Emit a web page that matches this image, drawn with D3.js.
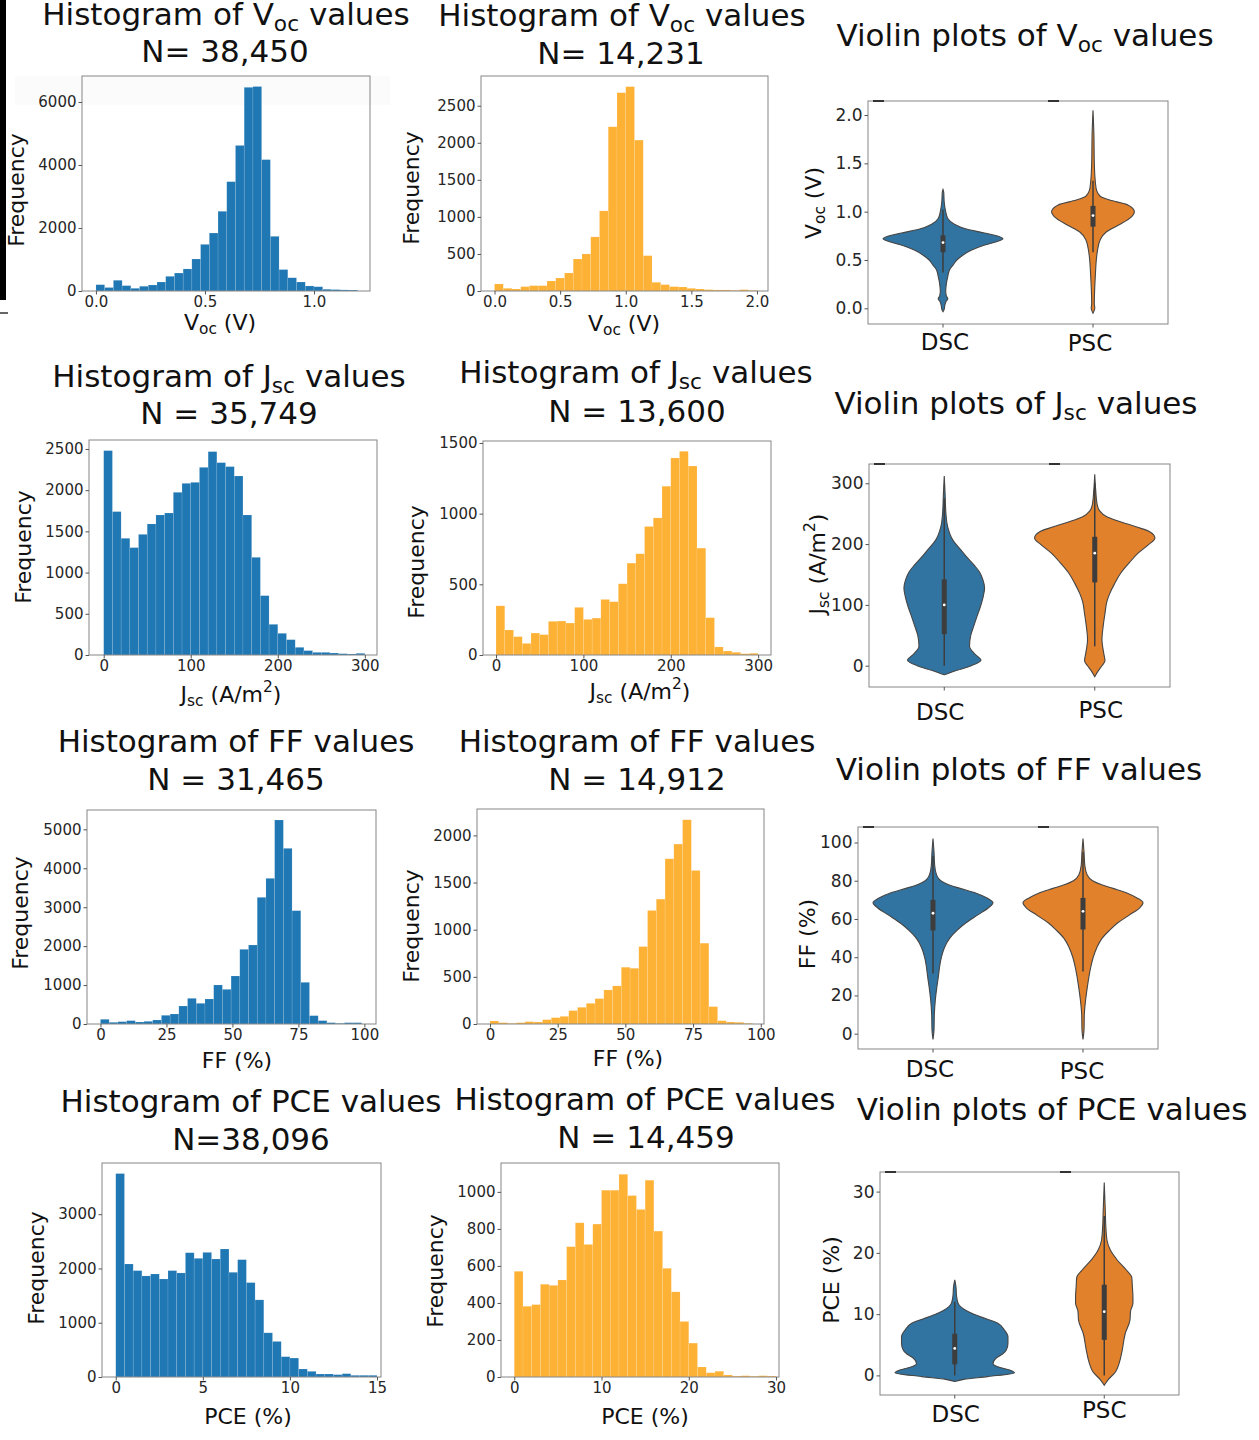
<!DOCTYPE html>
<html>
<head>
<meta charset="utf-8">
<script src="https://cdn.jsdelivr.net/npm/d3@7"></script>
<style>
  body { margin: 0; background: #fff; }
  svg { display: block; font-family: "DejaVu Sans", sans-serif; }
</style>
</head>
<body>
<div id="chart"></div>
<script>
// ---- histogram counts (30 bins each) ----
var vocDscRange = [0, 1.2];
var vocDscCounts = [200, 110, 340, 170, 85, 150, 190, 285, 465, 570, 700, 1015, 1480, 1840, 2530, 3470, 4620, 6465, 6490, 4170, 1735, 680, 420, 285, 160, 135, 55, 45, 35, 30];
var vocPscRange = [0, 2.0];
var vocPscCounts = [95, 36, 27, 59, 72, 72, 135, 175, 243, 432, 500, 730, 1081, 2216, 2676, 2757, 2036, 477, 117, 86, 59, 54, 36, 27, 18, 14, 14, 9, 18, 9];
var jscDscRange = [0, 300];
var jscDscCounts = [2480, 1740, 1416, 1303, 1464, 1590, 1699, 1723, 1974, 2083, 2095, 2277, 2468, 2334, 2286, 2172, 1699, 1185, 720, 372, 263, 186, 93, 53, 32, 32, 24, 16, 12, 20];
var jscPscRange = [0, 300];
var jscPscCounts = [348, 177, 130, 82, 155, 144, 238, 240, 226, 337, 252, 261, 393, 377, 504, 650, 716, 909, 970, 1194, 1394, 1441, 1337, 756, 264, 57, 28, 19, 9, 12];
var ffDscRange = [0, 99];
var ffDscCounts = [120, 43, 60, 86, 51, 68, 103, 223, 257, 462, 659, 531, 642, 1002, 890, 1233, 1918, 2029, 3253, 3741, 5240, 4512, 2911, 1070, 214, 86, 34, 17, 34, 34];
var ffPscRange = [0, 97];
var ffPscCounts = [32, 14, 7, 14, 25, 21, 46, 67, 81, 142, 177, 219, 269, 361, 404, 602, 591, 821, 1204, 1324, 1752, 1908, 2166, 1628, 857, 184, 35, 21, 18, 7];
var pceDscRange = [0, 15];
var pceDscCounts = [3748, 2082, 1960, 1862, 1898, 1806, 1960, 1917, 2290, 2186, 2296, 2174, 2358, 1929, 2162, 1739, 1421, 814, 655, 374, 349, 147, 104, 55, 55, 43, 61, 31, 31, 31];
var pcePscRange = [0, 30];
var pcePscCounts = [571, 382, 391, 501, 495, 524, 704, 833, 716, 826, 1009, 1009, 1095, 980, 905, 1063, 788, 587, 460, 300, 183, 54, 23, 31, 11, 5, 7, 4, 7, 5];

// ---- violin outlines: [value, relative half width] ----
var groups = ["DSC", "PSC"];
var vocDscViolin = [[-0.035, 0], [-0.01, 0.02], [0.03, 0.03], [0.07, 0.05], [0.1, 0.08], [0.13, 0.055], [0.18, 0.045], [0.25, 0.055], [0.33, 0.08], [0.4, 0.11], [0.45, 0.17], [0.5, 0.23], [0.55, 0.33], [0.6, 0.47], [0.65, 0.67], [0.69, 0.89], [0.72, 1.0], [0.745, 0.92], [0.78, 0.69], [0.82, 0.39], [0.87, 0.19], [0.93, 0.08], [1.0, 0.045], [1.1, 0.02], [1.2, 0.012], [1.23, 0]];
var vocPscViolin = [[-0.05, 0], [0.0, 0.03], [0.05, 0.022], [0.2, 0.028], [0.35, 0.04], [0.5, 0.055], [0.6, 0.075], [0.71, 0.12], [0.79, 0.22], [0.86, 0.42], [0.93, 0.61], [1.0, 0.69], [1.07, 0.58], [1.12, 0.28], [1.16, 0.12], [1.22, 0.06], [1.3, 0.04], [1.5, 0.022], [1.8, 0.015], [2.05, 0]];
var jscDscViolin = [[-15, 0], [-8, 0.2], [0, 0.45], [9, 0.61], [20, 0.5], [32, 0.42], [50, 0.44], [65, 0.49], [80, 0.54], [97, 0.6], [115, 0.65], [128, 0.67], [142, 0.64], [155, 0.58], [165, 0.5], [178, 0.38], [190, 0.28], [207, 0.14], [229, 0.055], [250, 0.028], [280, 0.015], [312, 0]];
var jscPscViolin = [[-18, 0], [-8, 0.06], [0, 0.12], [8, 0.17], [20, 0.15], [43, 0.12], [65, 0.14], [86, 0.17], [105, 0.2], [119, 0.25], [135, 0.33], [152, 0.43], [170, 0.58], [185, 0.72], [198, 0.88], [210, 1.0], [220, 0.92], [228, 0.7], [236, 0.45], [245, 0.2], [255, 0.08], [265, 0.04], [290, 0.015], [315, 0]];
var ffDscViolin = [[-3, 0], [2, 0.017], [10, 0.022], [18, 0.04], [25, 0.067], [30, 0.09], [35, 0.11], [40, 0.14], [45, 0.19], [50, 0.28], [54, 0.4], [58, 0.55], [62, 0.74], [66, 0.93], [68.5, 1.0], [71, 0.9], [73.5, 0.72], [76, 0.45], [78, 0.25], [80, 0.13], [83, 0.06], [88, 0.028], [95, 0.017], [102, 0]];
var ffPscViolin = [[-3, 0], [2, 0.017], [10, 0.022], [18, 0.045], [25, 0.075], [30, 0.1], [35, 0.13], [40, 0.17], [45, 0.23], [50, 0.32], [54, 0.44], [58, 0.58], [62, 0.77], [66, 0.95], [68.5, 1.0], [71, 0.9], [73.5, 0.74], [76, 0.5], [78, 0.3], [80, 0.16], [83, 0.07], [88, 0.03], [95, 0.017], [102, 0]];
var pceDscViolin = [[-1, 0], [-0.65, 0.15], [-0.2, 0.55], [0.44, 1.0], [0.87, 0.92], [1.4, 0.72], [1.96, 0.64], [2.8, 0.69], [3.5, 0.8], [4.1, 0.86], [5.2, 0.89], [6.3, 0.89], [7.4, 0.83], [8.5, 0.72], [9.6, 0.42], [10.6, 0.19], [11.8, 0.055], [13, 0.03], [14.5, 0.02], [15.6, 0]];
var pcePscViolin = [[-1.6, 0], [-0.76, 0.06], [0.6, 0.19], [2, 0.25], [4.1, 0.3], [6.8, 0.35], [9, 0.43], [10.5, 0.44], [11.8, 0.48], [12.8, 0.48], [14.5, 0.47], [16, 0.46], [17.2, 0.37], [18.8, 0.22], [20.5, 0.1], [22.1, 0.045], [24, 0.028], [27, 0.017], [31.5, 0]];

// inner box: [whisker low, q1, median, q3, whisker high]
var vocDscBox = [0.37, 0.58, 0.68, 0.755, 1.02];
var vocPscBox = [0.58, 0.845, 0.96, 1.06, 1.32];
var jscDscBox = [0, 52, 100, 142, 275];
var jscPscBox = [32, 137, 185, 212, 300];
var ffDscBox = [31.5, 54, 63, 70, 93];
var ffPscBox = [32.5, 54.5, 64, 71, 95];
var pceDscBox = [0, 1.8, 4.4, 6.8, 12];
var pcePscBox = [0, 5.8, 10.4, 14.8, 26];

// ---- tick values ----
var vocDscXTicks = [0, 0.5, 1.0];
var vocDscYTicks = [0, 2000, 4000, 6000];
var vocPscXTicks = [0, 0.5, 1.0, 1.5, 2.0];
var vocPscYTicks = [0, 500, 1000, 1500, 2000, 2500];
var jscXTicks = [0, 100, 200, 300];
var jscDscYTicks = [0, 500, 1000, 1500, 2000, 2500];
var jscPscYTicks = [0, 500, 1000, 1500];
var ffXTicks = [0, 25, 50, 75, 100];
var ffDscYTicks = [0, 1000, 2000, 3000, 4000, 5000];
var ffPscYTicks = [0, 500, 1000, 1500, 2000];
var pceDscXTicks = [0, 5, 10, 15];
var pceDscYTicks = [0, 1000, 2000, 3000];
var pcePscXTicks = [0, 10, 20, 30];
var pcePscYTicks = [0, 200, 400, 600, 800, 1000];
var vocViolinTicks = [0, 0.5, 1.0, 1.5, 2.0];
var jscViolinTicks = [0, 100, 200, 300];
var ffViolinTicks = [0, 20, 40, 60, 80, 100];
var pceViolinTicks = [0, 10, 20, 30];

// ---- text ----
var vocHistTitle = ["Histogram of V", ["oc", "sub"], " values"];
var jscHistTitle = ["Histogram of J", ["sc", "sub"], " values"];
var ffHistTitle = ["Histogram of FF values"];
var pceHistTitle = ["Histogram of PCE values"];
var vocViolinTitle = ["Violin plots of V", ["oc", "sub"], " values"];
var jscViolinTitle = ["Violin plots of J", ["sc", "sub"], " values"];
var ffViolinTitle = ["Violin plots of FF values"];
var pceViolinTitle = ["Violin plots of PCE values"];
var vocLabel = ["V", ["oc", "sub"], " (V)"];
var jscLabel = ["J", ["sc", "sub"], " (A/m", ["2", "sup"], ")"];
var ffLabel = ["FF (%)"];
var pceLabel = ["PCE (%)"];
var sampleSizes = ["N= 38,450", "N= 14,231", "N = 35,749", "N = 13,600", "N = 31,465", "N = 14,912", "N=38,096", "N = 14,459"];

var blue = "#1f77b4", amber = "#fdb135";
var violinColors = ["#3274a1", "#e1812c"];

var width = 1259, height = 1440;
var svg = d3.select("#chart").append("svg")
  .attr("width", width).attr("height", height);
svg.append("rect").attr("width", width).attr("height", height).attr("fill", "#fff");

// stray marks on the left edge of the figure
svg.append("rect").attr("x", 0).attr("y", 0).attr("width", 6).attr("height", 300).attr("fill", "#000");
svg.append("rect").attr("x", 0).attr("y", 312).attr("width", 8).attr("height", 2).attr("fill", "#666");
svg.append("rect").attr("x", 15).attr("y", 76).attr("width", 375).attr("height", 29).attr("fill", "#fbfbfb");

// text with sub/superscripts
function rich(sel, parts, fs) {
  var pending = 0;
  parts.forEach(function(p) {
    var isStr = typeof p === "string";
    var t = sel.append("tspan").text(isStr ? p : p[0]);
    var shift = 0;
    if (!isStr) {
      shift = p[1] === "sub" ? 0.2 * fs : -0.45 * fs;
      t.attr("font-size", fs * 0.7);
    }
    if (shift - pending !== 0) t.attr("dy", shift - pending);
    pending = shift;
  });
}

function addText(parts, x, y, fs, rotate) {
  var t = svg.append("text")
    .attr("text-anchor", "middle")
    .attr("font-size", fs)
    .attr("fill", "#111");
  if (rotate) t.attr("transform", "translate(" + x + "," + y + ") rotate(-90)");
  else t.attr("x", x).attr("y", y);
  rich(t, parts, fs);
  return t;
}

function styleAxis(g, fs) {
  g.select(".domain").remove();
  g.attr("font-family", null).attr("font-size", null);
  g.selectAll(".tick line").attr("stroke", "#555");
  g.selectAll(".tick text").attr("fill", "#262626").attr("font-size", fs);
}

function drawHist(p) {
  var g = svg.append("g");
  var x = d3.scaleLinear().domain(p.xDomain).range([p.left, p.right]);
  var y = d3.scaleLinear().domain(p.yDomain).range([p.bottom, p.top]);
  var n = p.counts.length;
  var step = (p.range[1] - p.range[0]) / n;

  g.selectAll("rect.bar")
    .data(p.counts)
    .enter()
    .append("rect")
    .attr("class", "bar")
    .attr("x", function(d, i) { return x(p.range[0] + i * step); })
    .attr("width", function(d, i) { return x(p.range[0] + (i + 1) * step) - x(p.range[0] + i * step); })
    .attr("y", function(d) { return y(d); })
    .attr("height", function(d) { return y(0) - y(d); })
    .attr("fill", p.color)
    .attr("stroke", "#fff")
    .attr("stroke-opacity", 0.2)
    .attr("stroke-width", 0.6);

  g.append("rect")
    .attr("x", p.left).attr("y", p.top)
    .attr("width", p.right - p.left).attr("height", p.bottom - p.top)
    .attr("fill", "none").attr("stroke", "#858585").attr("stroke-width", 1);

  var xa = g.append("g").attr("transform", "translate(0," + p.bottom + ")")
    .call(d3.axisBottom(x).tickValues(p.xTicks).tickFormat(d3.format(p.xFmt)).tickSize(3.5).tickPadding(2));
  styleAxis(xa, 15);
  var ya = g.append("g").attr("transform", "translate(" + p.left + ",0)")
    .call(d3.axisLeft(y).tickValues(p.yTicks).tickFormat(d3.format("d")).tickSize(3.5).tickPadding(2));
  styleAxis(ya, 15);

  addText(p.title, p.titlePos[0], p.titlePos[1], 31);
  addText([p.n], p.nPos[0], p.nPos[1], 31);
  addText(p.xLabel, p.xLabelPos[0], p.xLabelPos[1], 22);
  addText(["Frequency"], p.yLabelPos[0], p.yLabelPos[1], 22, true);
}

function drawViolin(p) {
  var g = svg.append("g");
  var x = d3.scaleBand().domain(groups).range([p.left, p.right]).padding(0);
  var y = d3.scaleLinear().domain(p.yDomain).range([p.bottom, p.top]);
  var w = d3.scaleLinear().domain([0, 1]).range([0, x.bandwidth() * 0.4]);

  groups.forEach(function(grp, k) {
    var cx = x(grp) + x.bandwidth() / 2;
    var pts = p.profiles[k].slice().sort(function(a, b) { return b[0] - a[0]; });
    var area = d3.area()
      .y(function(d) { return y(d[0]); })
      .x0(function(d) { return cx - w(d[1]); })
      .x1(function(d) { return cx + w(d[1]); })
      .curve(d3.curveMonotoneY);
    g.append("path").datum(pts)
      .attr("d", area)
      .attr("fill", violinColors[k])
      .attr("stroke", "#454545")
      .attr("stroke-width", 1.1);

    var b = p.boxes[k];
    g.append("line")
      .attr("x1", cx).attr("x2", cx)
      .attr("y1", y(b[0])).attr("y2", y(b[4]))
      .attr("stroke", "#3d3d3d").attr("stroke-width", 1.5);
    g.append("rect")
      .attr("x", cx - 2.5).attr("width", 5)
      .attr("y", y(b[3])).attr("height", y(b[1]) - y(b[3]))
      .attr("fill", "#3d3d3d");
    g.append("circle")
      .attr("cx", cx).attr("cy", y(b[2])).attr("r", 1.4)
      .attr("fill", "#fff");

    svg.append("text")
      .attr("x", cx + p.catDx[k]).attr("y", p.catY[k])
      .attr("text-anchor", "middle")
      .attr("font-size", 23)
      .attr("fill", "#111")
      .text(grp);
  });

  g.append("rect")
    .attr("x", p.left).attr("y", p.top)
    .attr("width", p.right - p.left).attr("height", p.bottom - p.top)
    .attr("fill", "none").attr("stroke", "#858585").attr("stroke-width", 1);
  // small dark marks sitting on the top spine
  [5, 180].forEach(function(off) {
    g.append("line")
      .attr("x1", p.left + off).attr("x2", p.left + off + 11)
      .attr("y1", p.top).attr("y2", p.top)
      .attr("stroke", "#333").attr("stroke-width", 2);
  });

  var xa = g.append("g").attr("transform", "translate(0," + p.bottom + ")")
    .call(d3.axisBottom(x).tickSize(3.5).tickFormat(""));
  styleAxis(xa, 17);
  var ya = g.append("g").attr("transform", "translate(" + p.left + ",0)")
    .call(d3.axisLeft(y).tickValues(p.yTicks).tickFormat(d3.format(p.yFmt)).tickSize(3.5).tickPadding(2));
  styleAxis(ya, 17);

  addText(p.title, p.titlePos[0], p.titlePos[1], 31);
  addText(p.yLabel, p.yLabelPos[0], p.yLabelPos[1], 22, true);
}

var hists = [
  { counts: vocDscCounts, range: vocDscRange, color: blue, left: 82, right: 370, top: 76, bottom: 291,
    xDomain: [-0.064, 1.257], yDomain: [0, 6825], xTicks: vocDscXTicks, yTicks: vocDscYTicks, xFmt: ".1f",
    title: vocHistTitle, titlePos: [226, 25], n: sampleSizes[0], nPos: [225, 62],
    xLabel: vocLabel, xLabelPos: [220, 330], yLabelPos: [24, 190] },
  { counts: vocPscCounts, range: vocPscRange, color: amber, left: 481, right: 768, top: 76, bottom: 291,
    xDomain: [-0.103, 2.084], yDomain: [0, 2901], xTicks: vocPscXTicks, yTicks: vocPscYTicks, xFmt: ".1f",
    title: vocHistTitle, titlePos: [622, 26], n: sampleSizes[1], nPos: [621, 64],
    xLabel: vocLabel, xLabelPos: [624, 331], yLabelPos: [419, 188] },
  { counts: jscDscCounts, range: jscDscRange, color: blue, left: 89, right: 377, top: 440, bottom: 655,
    xDomain: [-16.9, 314], yDomain: [0, 2609], xTicks: jscXTicks, yTicks: jscDscYTicks, xFmt: "d",
    title: jscHistTitle, titlePos: [229, 387], n: sampleSizes[2], nPos: [229, 424],
    xLabel: jscLabel, xLabelPos: [231, 702], yLabelPos: [31, 547] },
  { counts: jscPscCounts, range: jscPscRange, color: amber, left: 483, right: 771, top: 441, bottom: 655,
    xDomain: [-14.9, 314.7], yDomain: [0, 1514], xTicks: jscXTicks, yTicks: jscPscYTicks, xFmt: "d",
    title: jscHistTitle, titlePos: [636, 383], n: sampleSizes[3], nPos: [637, 422],
    xLabel: jscLabel, xLabelPos: [640, 699], yLabelPos: [424, 562] },
  { counts: ffDscCounts, range: ffDscRange, color: blue, left: 87, right: 376, top: 810, bottom: 1024,
    xDomain: [-5.1, 104.4], yDomain: [0, 5497], xTicks: ffXTicks, yTicks: ffDscYTicks, xFmt: "d",
    title: ffHistTitle, titlePos: [236, 752], n: sampleSizes[4], nPos: [236, 790],
    xLabel: ffLabel, xLabelPos: [237, 1068], yLabelPos: [28, 913] },
  { counts: ffPscCounts, range: ffPscRange, color: amber, left: 477, right: 764, top: 809, bottom: 1024,
    xDomain: [-4.8, 101.2], yDomain: [0, 2280], xTicks: ffXTicks, yTicks: ffPscYTicks, xFmt: "d",
    title: ffHistTitle, titlePos: [637, 752], n: sampleSizes[5], nPos: [637, 790],
    xLabel: ffLabel, xLabelPos: [628, 1066], yLabelPos: [419, 926] },
  { counts: pceDscCounts, range: pceDscRange, color: blue, left: 102, right: 381, top: 1163, bottom: 1377,
    xDomain: [-0.79, 15.23], yDomain: [0, 3943], xTicks: pceDscXTicks, yTicks: pceDscYTicks, xFmt: "d",
    title: pceHistTitle, titlePos: [251, 1112], n: sampleSizes[6], nPos: [251, 1150],
    xLabel: pceLabel, xLabelPos: [248, 1424], yLabelPos: [44, 1268] },
  { counts: pcePscCounts, range: pcePscRange, color: amber, left: 501, right: 779, top: 1163, bottom: 1377,
    xDomain: [-1.52, 30.34], yDomain: [0, 1156], xTicks: pcePscXTicks, yTicks: pcePscYTicks, xFmt: "d",
    title: pceHistTitle, titlePos: [645, 1110], n: sampleSizes[7], nPos: [646, 1148],
    xLabel: pceLabel, xLabelPos: [645, 1424], yLabelPos: [443, 1271] }
];

var violins = [
  { profiles: [vocDscViolin, vocPscViolin], boxes: [vocDscBox, vocPscBox], left: 868, right: 1168, top: 101, bottom: 324,
    yDomain: [-0.162, 2.145], yTicks: vocViolinTicks, yFmt: ".1f", title: vocViolinTitle, titlePos: [1025, 46],
    yLabel: vocLabel, yLabelPos: [821, 203], catY: [350, 351], catDx: [2, -3] },
  { profiles: [jscDscViolin, jscPscViolin], boxes: [jscDscBox, jscPscBox], left: 869, right: 1170, top: 464, bottom: 687,
    yDomain: [-35, 331.7], yTicks: jscViolinTicks, yFmt: "d", title: jscViolinTitle, titlePos: [1016, 414],
    yLabel: jscLabel, yLabelPos: [825, 564], catY: [720, 718], catDx: [-4, 6] },
  { profiles: [ffDscViolin, ffPscViolin], boxes: [ffDscBox, ffPscBox], left: 858, right: 1158, top: 827, bottom: 1049,
    yDomain: [-8, 108.1], yTicks: ffViolinTicks, yFmt: "d", title: ffViolinTitle, titlePos: [1019, 780],
    yLabel: ffLabel, yLabelPos: [815, 934], catY: [1077, 1079], catDx: [-3, -1] },
  { profiles: [pceDscViolin, pcePscViolin], boxes: [pceDscBox, pcePscBox], left: 880, right: 1179, top: 1172, bottom: 1395,
    yDomain: [-3.2, 33.2], yTicks: pceViolinTicks, yFmt: "d", title: pceViolinTitle, titlePos: [1052, 1120],
    yLabel: pceLabel, yLabelPos: [839, 1280], catY: [1422, 1418], catDx: [1, 0] }
];

hists.forEach(drawHist);
violins.forEach(drawViolin);
</script>
</body>
</html>
